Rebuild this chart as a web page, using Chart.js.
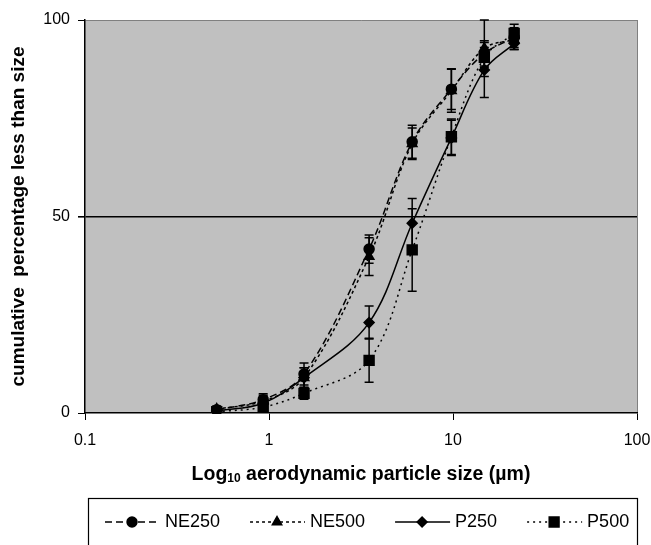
<!DOCTYPE html>
<html lang="en">
<head>
  <meta charset="UTF-8" />
  <title>Cumulative particle size distribution</title>
  <script src="https://cdn.jsdelivr.net/npm/chart.js"></script>
  <style>
    body {
      margin: 0;
      background: #fff;
      overflow: hidden;
    }
    .wrap {
      position: relative;
      width: 651px;
      height: 545px;
    }
  </style>
</head>
<body>
  <div class="wrap">
    <canvas id="psd"></canvas>
  </div>

  <script>
    // aerodynamic cut-off sizes (µm)
    const sizes = [0.52, 0.93, 1.55, 3.5, 6.0, 9.8, 14.8, 21.5];

    // cumulative % less than size, with error bars
    const ne250 = [0.8, 3.4, 9.9, 41.7, 69.0, 82.4, 91.5, 95.5];
    const ne250Err = [0.8, 1.5, 2.8, 3.6, 4.2, 5.2, 3.2, 2.5];
    const ne500 = [1.0, 3.0, 9.0, 39.8, 68.5, 82.0, 92.8, 95.0];
    const ne500Err = [0.8, 1.5, 2.5, 4.8, 4.0, 5.5, 7.2, 2.5];
    const p250 = [0.5, 2.5, 9.0, 23.0, 48.3, 70.0, 87.3, 94.0];
    const p250Err = [0.5, 1.5, 2.5, 4.2, 6.3, 4.5, 7.0, 1.5];
    const p500 = [0.3, 1.5, 5.0, 13.4, 41.5, 70.3, 90.5, 96.6];
    const p500Err = [0.3, 1.0, 1.5, 5.6, 10.5, 4.5, 2.5, 2.3];

    const xTicks = [0.1, 1, 10, 100];
    const yTicks = [0, 50, 100];

    const FONT = "'Liberation Sans', Arial, sans-serif";

    function series(label, values, errors, dash, shape, radius) {
      return {
        label: label,
        data: sizes.map((s, i) => ({ x: s, y: values[i] })),
        errors: errors,
        borderColor: '#000',
        backgroundColor: '#000',
        borderWidth: 1.5,
        borderDash: dash,
        pointStyle: shape,
        pointRadius: radius,
        pointHoverRadius: radius,
        tension: 0.35,
        fill: false
      };
    }

    // grey plot background
    const plotBackground = {
      id: 'plotBackground',
      beforeDraw(chart) {
        const { ctx, chartArea: a } = chart;
        ctx.save();
        ctx.fillStyle = '#c0c0c0';
        ctx.fillRect(a.left, a.top, a.right - a.left, a.bottom - a.top);
        ctx.restore();
      }
    };

    // vertical error bars with caps
    const errorBars = {
      id: 'errorBars',
      afterDatasetsDraw(chart) {
        const { ctx, scales: { x, y } } = chart;
        ctx.save();
        ctx.strokeStyle = '#000';
        ctx.lineWidth = 1.5;
        ctx.setLineDash([]);
        chart.data.datasets.forEach(ds => {
          ds.data.forEach((p, i) => {
            const e = ds.errors[i];
            const px = x.getPixelForValue(p.x);
            const yTop = y.getPixelForValue(p.y + e);
            const yBot = y.getPixelForValue(p.y - e);
            ctx.beginPath();
            ctx.moveTo(px, yTop);
            ctx.lineTo(px, yBot);
            ctx.moveTo(px - 4.5, yTop);
            ctx.lineTo(px + 4.5, yTop);
            ctx.moveTo(px - 4.5, yBot);
            ctx.lineTo(px + 4.5, yBot);
            ctx.stroke();
          });
        });
        ctx.restore();
      }
    };

    // x title with subscript "10"
    const xTitle = {
      id: 'xTitle',
      afterDraw(chart) {
        const { ctx, chartArea: a } = chart;
        const parts = [
          { t: 'Log', f: 'bold 19.5px ' + FONT, dy: 0 },
          { t: '10', f: 'bold 12px ' + FONT, dy: 4 },
          { t: ' aerodynamic particle size (µm)', f: 'bold 19.5px ' + FONT, dy: 0 }
        ];
        ctx.save();
        ctx.fillStyle = '#000';
        ctx.textBaseline = 'middle';
        let total = 0;
        parts.forEach(p => { ctx.font = p.f; total += ctx.measureText(p.t).width; });
        let x = (a.left + a.right) / 2 - total / 2;
        const y = 475;
        parts.forEach(p => {
          ctx.font = p.f;
          ctx.fillText(p.t, x, y + p.dy);
          x += ctx.measureText(p.t).width;
        });
        ctx.restore();
      }
    };

    // boxed legend with line + marker samples
    const boxLegend = {
      id: 'boxLegend',
      afterDraw(chart) {
        const { ctx } = chart;
        ctx.save();
        ctx.strokeStyle = '#000';
        ctx.lineWidth = 1.2;
        ctx.strokeRect(88.5, 498.5, 549, 70);
        ctx.font = '18px ' + FONT;
        ctx.textBaseline = 'middle';
        const cy = 522;
        let x = 105;
        chart.data.datasets.forEach(ds => {
          ctx.strokeStyle = '#000';
          ctx.lineWidth = 1.4;
          ctx.setLineDash(ds.borderDash);
          ctx.beginPath();
          ctx.moveTo(x, cy);
          ctx.lineTo(x + 55, cy);
          ctx.stroke();
          ctx.setLineDash([]);
          Chart.helpers.drawPoint(ctx, {
            pointStyle: ds.pointStyle,
            radius: ds.pointRadius,
            borderWidth: 1,
            rotation: 0
          }, x + 27, cy);
          ctx.fill();
          ctx.fillStyle = '#000';
          ctx.fillText(ds.label, x + 60, cy);
          x += 60 + ctx.measureText(ds.label).width + 30;
        });
        ctx.restore();
      }
    };

    new Chart(document.getElementById('psd'), {
      type: 'line',
      data: {
        datasets: [
          series('NE250', ne250, ne250Err, [7, 4], 'circle', 5),
          series('NE500', ne500, ne500Err, [3, 3], 'triangle', 5.5),
          series('P250', p250, p250Err, [], 'rectRot', 5),
          series('P500', p500, p500Err, [2, 4], 'rect', 7)
        ]
      },
      options: {
        responsive: true,
        maintainAspectRatio: false,
        animation: false,
        layout: { padding: { top: 20, right: 14, bottom: 47, left: 0 } },
        plugins: {
          legend: { display: false },
          tooltip: { enabled: false }
        },
        scales: {
          x: {
            type: 'logarithmic',
            min: 0.1,
            max: 100,
            afterBuildTicks: s => { s.ticks = xTicks.map(v => ({ value: v })); },
            afterFit: s => { s.height = 85; s.paddingRight = 0; s.paddingLeft = 0; },
            ticks: {
              color: '#000',
              font: { family: FONT, size: 16 },
              padding: 11,
              maxRotation: 0,
              autoSkip: false,
              callback: v => String(v)
            },
            grid: {
              color: c => (c.tick && c.tick.value === 100 ? '#808080' : 'rgba(0,0,0,0)'),
              tickColor: '#000',
              tickLength: 7,
              lineWidth: 1
            },
            border: { color: '#000', width: 1.5 }
          },
          y: {
            min: 0,
            max: 100,
            afterBuildTicks: s => { s.ticks = yTicks.map(v => ({ value: v })); },
            afterFit: s => { s.width = 85; },
            ticks: {
              color: '#000',
              font: { family: FONT, size: 16 },
              padding: 8
            },
            grid: {
              color: c => {
                if (!c.tick) return 'rgba(0,0,0,0)';
                if (c.tick.value === 50) return '#000';
                if (c.tick.value === 100) return '#808080';
                return 'rgba(0,0,0,0)';
              },
              lineWidth: c => (c.tick && c.tick.value === 50 ? 1.6 : 1),
              tickColor: '#000',
              tickLength: 7
            },
            border: { color: '#000', width: 1.5 },
            title: {
              display: true,
              text: 'cumulative  percentage less than size',
              color: '#000',
              font: { family: FONT, size: 19, weight: 'bold' },
              padding: { top: 7, bottom: 0 }
            }
          }
        }
      },
      plugins: [plotBackground, errorBars, xTitle, boxLegend]
    });
  </script>
</body>
</html>
